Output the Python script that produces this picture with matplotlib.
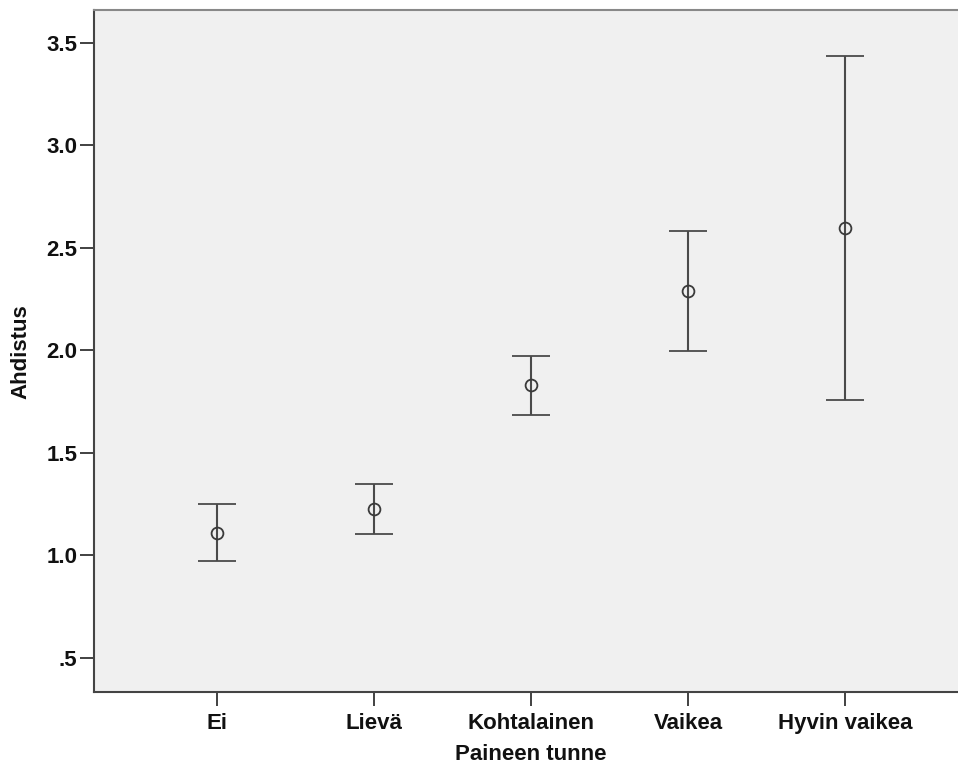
import matplotlib.pyplot as plt
import numpy as np

# Ahdistus by Paineen tunne: mean with error bars
categories = ["Ei", "Lievä", "Kohtalainen", "Vaikea", "Hyvin vaikea"]
means = [1.110, 1.226, 1.829, 2.288, 2.595]
lower = [0.974, 1.104, 1.684, 1.997, 1.758]
upper = [1.249, 1.349, 1.974, 2.580, 3.434]
yticks = [0.5, 1.0, 1.5, 2.0, 2.5, 3.0, 3.5]
yticklabels = [".5", "1.0", "1.5", "2.0", "2.5", "3.0", "3.5"]

plt.rcParams['font.family'] = ['Liberation Sans', 'DejaVu Sans']
plt.rcParams['font.weight'] = 'bold'

fig = plt.figure(figsize=(9.58, 7.75), dpi=100)
W, H = 958.0, 775.0
# axes box runs just past the right edge of the picture, like the original
ax = fig.add_axes([94 / W, (H - 692.3) / H, (968 - 94) / W, (692.3 - 10) / H])
ax.set_facecolor('#f0f0f0')

x = np.arange(len(categories))
means = np.array(means)
err = [means - np.array(lower), np.array(upper) - means]
ax.errorbar(x, means, yerr=err, fmt='o', color='#3a3a3a', ecolor='#4a4a4a',
            elinewidth=1.5, capsize=14, capthick=1.5,
            markersize=8.5, markerfacecolor='none', markeredgecolor='#3a3a3a',
            markeredgewidth=1.3)

ax.set_xlim(-0.78, 4.78)
ax.set_ylim(0.332, 3.66)
ax.set_xticks(x)
ax.set_xticklabels(categories)
ax.set_yticks(yticks)
ax.set_yticklabels(yticklabels)

ax.tick_params(axis='both', direction='out', length=10, width=1.3, color='#333333',
               labelsize=16, labelcolor='#111111')
ax.tick_params(axis='y', pad=2)
ax.tick_params(axis='x', pad=5)

for s in ['left', 'bottom']:
    ax.spines[s].set_color('#444444')
    ax.spines[s].set_linewidth(1.5)
for s in ['top', 'right']:
    ax.spines[s].set_color('#888888')
    ax.spines[s].set_linewidth(1.5)

ax.set_xlabel("Paineen tunne", fontsize=16, fontweight='bold', labelpad=7, color='#111111')
ax.set_ylabel("Ahdistus", fontsize=16, fontweight='bold', labelpad=11, color='#111111')

fig.savefig("out.png", dpi=100)
